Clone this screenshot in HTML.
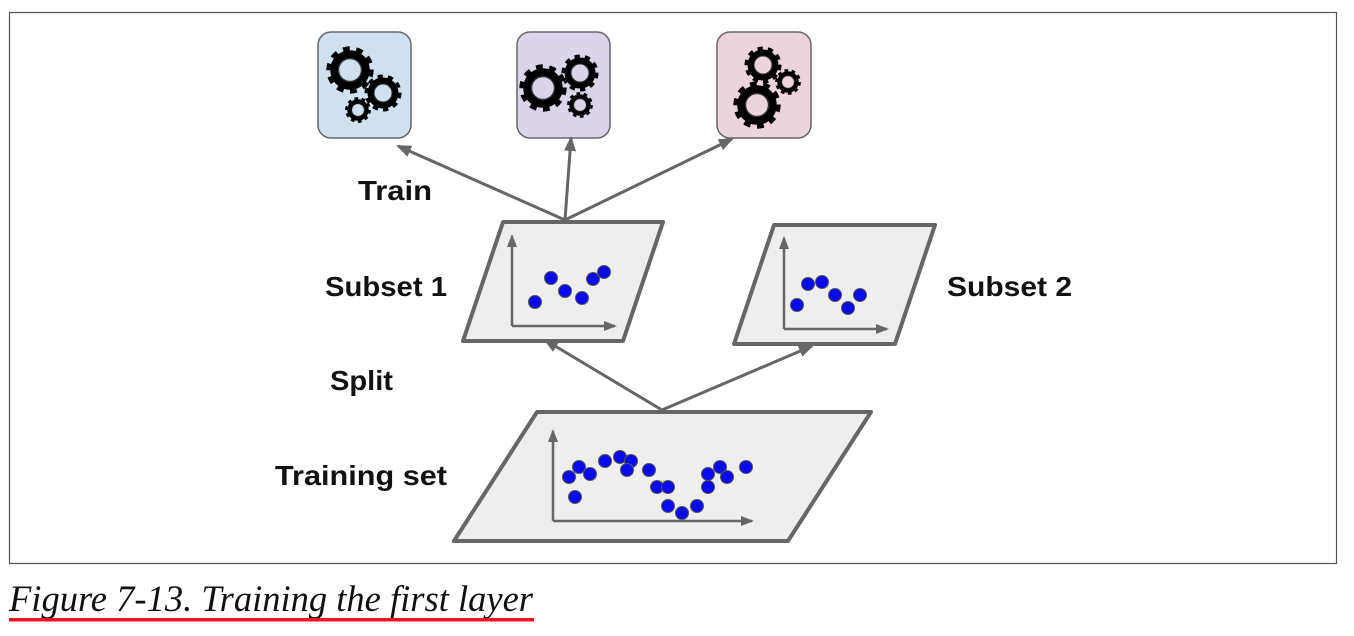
<!DOCTYPE html>
<html><head><meta charset="utf-8"><style>
html,body{margin:0;padding:0;background:#fff;width:1354px;height:636px;overflow:hidden}
svg{display:block}
.lbl{font-family:"Liberation Sans",sans-serif;font-weight:bold;font-size:28px;fill:#111}
</style></head><body>
<svg width="1354" height="636" viewBox="0 0 1354 636" xmlns="http://www.w3.org/2000/svg">
<defs>
<marker id="ah" markerWidth="16" markerHeight="14" refX="13" refY="7" orient="auto" markerUnits="userSpaceOnUse">
<path d="M0,1 L15,7 L0,13 z" fill="#666"/>
</marker>
<marker id="ah2" markerWidth="14" markerHeight="12" refX="11" refY="6" orient="auto" markerUnits="userSpaceOnUse">
<path d="M0,1 L13,6 L0,11 z" fill="#666"/>
</marker>
<g id="gear">
<circle r="0.88" fill="none" stroke="#000" stroke-width="0.3" stroke-dasharray="0.28 0.27"/>
<circle r="0.68" fill="none" stroke="#000" stroke-width="0.36"/>
<circle r="0.5" fill="none" stroke="#333" stroke-width="0.06"/>
</g>
</defs>
<rect x="9.5" y="12.5" width="1327" height="551" fill="#fff" stroke="#555" stroke-width="1.2"/>

<rect x="318" y="32" width="93" height="106" rx="13" fill="#cfe0f1" stroke="#666" stroke-width="1.5"/>
<rect x="517" y="32" width="93" height="106" rx="13" fill="#dcd4ea" stroke="#666" stroke-width="1.5"/>
<rect x="717" y="32" width="94" height="106" rx="13" fill="#ecd3dc" stroke="#666" stroke-width="1.5"/>

<use href="#gear" transform="translate(350,70) scale(23)"/>
<use href="#gear" transform="translate(383,93) scale(18)"/>
<use href="#gear" transform="translate(358,110) scale(12.5)"/>
<use href="#gear" transform="translate(543,88) scale(23)"/>
<use href="#gear" transform="translate(580,73) scale(18)"/>
<use href="#gear" transform="translate(580,105) scale(12.5)"/>
<use href="#gear" transform="translate(763,65) scale(18)"/>
<use href="#gear" transform="translate(788,82) scale(12.5)"/>
<use href="#gear" transform="translate(757,105) scale(23)"/>

<g stroke="#666" stroke-width="3" fill="none" marker-end="url(#ah)">
<line x1="565" y1="220" x2="398" y2="146"/>
<line x1="565" y1="220" x2="571" y2="138"/>
<line x1="565" y1="220" x2="732" y2="139"/>
<line x1="662" y1="410" x2="545" y2="340"/>
<line x1="662" y1="410" x2="812" y2="346"/>
</g>

<polygon points="503,222 663,222 623,341 463,341" fill="#eee" stroke="#666" stroke-width="4" stroke-linejoin="round"/>
<polygon points="774,225 935,225 895,344 734,344" fill="#eee" stroke="#666" stroke-width="4" stroke-linejoin="round"/>
<polygon points="537,412 871,412 788,541 454,541" fill="#eee" stroke="#666" stroke-width="4" stroke-linejoin="round"/>

<g stroke="#666" stroke-width="2.5" fill="none" marker-end="url(#ah2)">
<polyline points="512,326 615,326"/>
<polyline points="784,329 887,329"/>
<polyline points="553,521 752,521"/>
<polyline points="512,326 512,236"/>
<polyline points="784,329 784,238"/>
<polyline points="553,521 553,431"/>
</g>

<g fill="#0a0aee" stroke="#555" stroke-width="1">
<circle cx="535" cy="302" r="6.5"/><circle cx="551" cy="278" r="6.5"/><circle cx="565" cy="291" r="6.5"/><circle cx="582" cy="298" r="6.5"/><circle cx="593" cy="279" r="6.5"/><circle cx="604" cy="272" r="6.5"/>
<circle cx="797" cy="305" r="6.5"/><circle cx="808" cy="284" r="6.5"/><circle cx="822" cy="282" r="6.5"/><circle cx="835" cy="295" r="6.5"/><circle cx="848" cy="308" r="6.5"/><circle cx="860" cy="295" r="6.5"/>
<circle cx="569" cy="477" r="6.5"/><circle cx="579" cy="467" r="6.5"/><circle cx="590" cy="474" r="6.5"/><circle cx="575" cy="497" r="6.5"/><circle cx="605" cy="461" r="6.5"/><circle cx="620" cy="457" r="6.5"/><circle cx="631" cy="461" r="6.5"/><circle cx="627" cy="470" r="6.5"/><circle cx="649" cy="470" r="6.5"/><circle cx="657" cy="487" r="6.5"/><circle cx="668" cy="487" r="6.5"/><circle cx="668" cy="506" r="6.5"/><circle cx="682" cy="513" r="6.5"/><circle cx="697" cy="506" r="6.5"/><circle cx="708" cy="487" r="6.5"/><circle cx="708" cy="474" r="6.5"/><circle cx="720" cy="467" r="6.5"/><circle cx="727" cy="477" r="6.5"/><circle cx="746" cy="467" r="6.5"/>
</g>

<text class="lbl" x="358" y="200" textLength="74" lengthAdjust="spacingAndGlyphs">Train</text>
<text class="lbl" x="325" y="296" textLength="122" lengthAdjust="spacingAndGlyphs">Subset 1</text>
<text class="lbl" x="947" y="296" textLength="125" lengthAdjust="spacingAndGlyphs">Subset 2</text>
<text class="lbl" x="330" y="390" textLength="63" lengthAdjust="spacingAndGlyphs">Split</text>
<text class="lbl" x="275" y="485" textLength="172" lengthAdjust="spacingAndGlyphs">Training set</text>

<text x="9" y="611" font-family="'Liberation Serif',serif" font-style="italic" font-size="37" fill="#111" textLength="524" lengthAdjust="spacingAndGlyphs">Figure 7-13. Training the first layer</text>
<rect x="9" y="618" width="525" height="3.5" fill="#f0141e"/>
</svg>
</body></html>
